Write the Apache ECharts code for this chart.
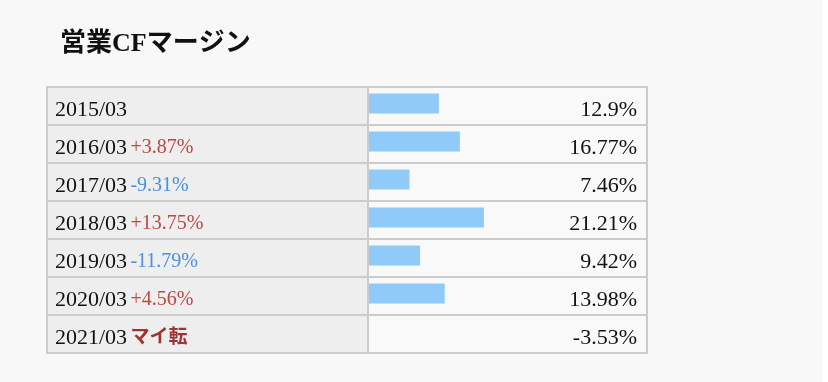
<!DOCTYPE html>
<html>
<head>
<meta charset="utf-8">
<script src="https://cdn.jsdelivr.net/npm/echarts@6/dist/echarts.min.js"></script>
<style>
html,body{margin:0;padding:0;background:#fff;}
#c{width:828px;height:382px;}
</style>
</head>
<body>
<div id="c"></div>
<script>
var titleText = '営業CFマージン';
var periods = ['2015/03', '2016/03', '2017/03', '2018/03', '2019/03', '2020/03', '2021/03'];
var margins = [12.9, 16.77, 7.46, 21.21, 9.42, 13.98, -3.53];
var changes = ['', '+3.87%', '-9.31%', '+13.75%', '-11.79%', '+4.56%', 'マイ転'];
var xMax = 51.3;

var serif = '"Liberation Serif", "Noto Sans CJK JP", serif';
var chart = echarts.init(document.getElementById('c'));

function changeStyle(s) {
  if (s === 'マイ転') return 'turn';
  if (s.charAt(0) === '+') return 'up';
  if (s.charAt(0) === '-') return 'down';
  return 'd';
}

var TOP = 87, H = 266;

chart.setOption({
  backgroundColor: '#f8f8f8',
  animation: false,
  graphic: [{
    type: 'rect', right: 0, top: 0, shape: { width: 6, height: 382 },
    style: { fill: '#ffffff' }, silent: true
  }],
  title: {
    text: titleText, left: 55, top: 26, padding: 5,
    textStyle: { fontFamily: serif, fontSize: 26, fontWeight: 'bold', color: '#111' }
  },
  grid: [
    { left: 47, top: TOP, width: 321, height: H, show: true, backgroundColor: '#eeeeee', borderColor: '#cccccc', borderWidth: 2, containLabel: false },
    { left: 368, top: TOP, width: 279, height: H, show: true, backgroundColor: '#f9f9f9', borderColor: '#cccccc', borderWidth: 2, containLabel: false },
    { left: 369, top: TOP - 2.5, width: 278, height: H, show: false, containLabel: false }
  ],
  xAxis: [
    { gridIndex: 0, type: 'value', show: false, min: 0, max: 1 },
    { gridIndex: 1, type: 'value', show: false, min: 0, max: 1 },
    { gridIndex: 2, type: 'value', show: false, min: 0, max: xMax }
  ],
  yAxis: [
    {
      gridIndex: 0, type: 'category', inverse: true, data: periods, position: 'left',
      axisLine: { show: false }, axisTick: { show: false },
      splitLine: { show: true, lineStyle: { color: '#cccccc', width: 2 } },
      axisLabel: {
        inside: true, margin: 8, align: 'left', padding: [8, 0, 0, 0],
        formatter: function (v, i) {
          var c = changes[i];
          return c ? '{d|' + v + '} {' + changeStyle(c) + '|' + c + '}' : '{d|' + v + '}';
        },
        rich: {
          d: { fontFamily: serif, fontSize: 22, color: '#111' },
          up: { fontFamily: serif, fontSize: 20, color: '#b84a46' },
          down: { fontFamily: serif, fontSize: 20, color: '#4a8fe0' },
          turn: { fontFamily: serif, fontSize: 19, color: '#9e3333', fontWeight: 'bold' }
        }
      }
    },
    {
      gridIndex: 1, type: 'category', inverse: true, data: periods, position: 'right',
      axisLine: { show: false }, axisTick: { show: false },
      splitLine: { show: true, lineStyle: { color: '#cccccc', width: 2 } },
      axisLabel: {
        inside: true, margin: 10, align: 'right', padding: [8, 0, 0, 0],
        formatter: function (v, i) { return '{v|' + margins[i] + '%}'; },
        rich: {
          v: { fontFamily: serif, fontSize: 22, color: '#111' }
        }
      }
    },
    {
      gridIndex: 2, type: 'category', inverse: true, data: periods, show: false
    }
  ],
  series: [{
    type: 'bar', xAxisIndex: 2, yAxisIndex: 2,
    data: margins, barWidth: 20, clip: true,
    itemStyle: { color: '#90caf9' },
    silent: true
  }]
});
</script>
</body>
</html>
